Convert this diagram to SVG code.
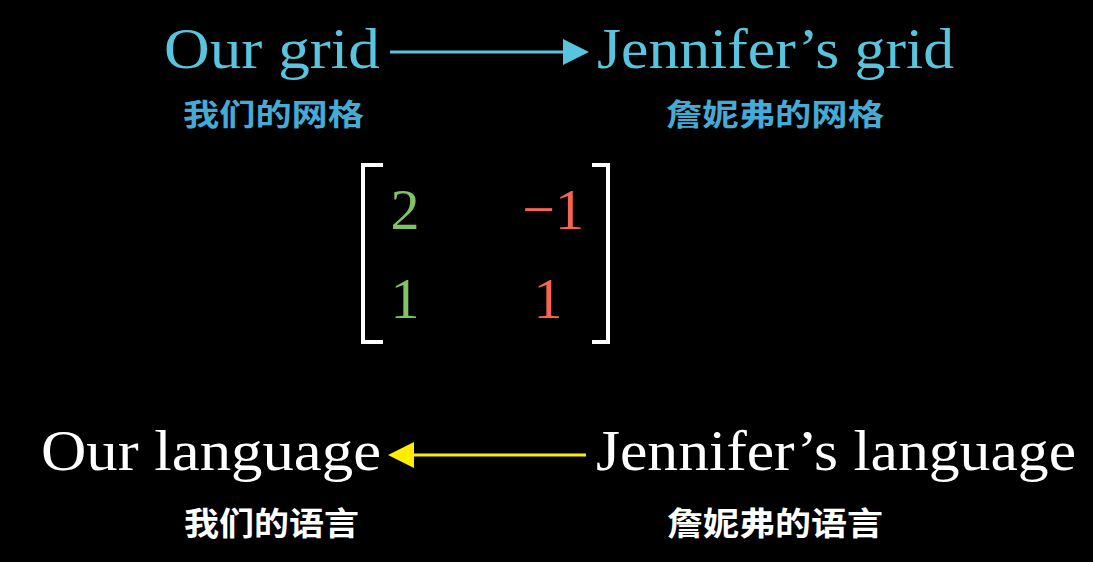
<svg xmlns="http://www.w3.org/2000/svg" width="1093" height="562" viewBox="0 0 1093 562">
<defs>
<style>
.lat{font-family:"Liberation Serif","DejaVu Serif",serif;font-size:58px;}
.cjk{font-family:"Noto Sans CJK SC","Noto Sans",sans-serif;font-weight:700;}
.blue{fill:#58c4dd;}
.cblue{fill:#45aad4;}
.white{fill:#ffffff;}
.green{fill:#83c167;}
.red{fill:#f7644f;}
.brk{fill:none;stroke:#ffffff;stroke-width:4;stroke-linejoin:miter;}
</style>
</defs>
<rect x="0" y="0" width="1093" height="562" fill="#000000"/>
<g id="our-grid">
<text class="lat blue" x="164" y="68" textLength="216" lengthAdjust="spacingAndGlyphs">Our grid</text>
<text class="cjk cblue" x="183" y="125" font-size="30" textLength="181" lengthAdjust="spacingAndGlyphs">我们的网格</text>
</g>
<g id="jennifers-grid">
<text class="lat blue" x="597" y="68" textLength="357" lengthAdjust="spacingAndGlyphs">Jennifer’s grid</text>
<text class="cjk cblue" x="666" y="125" font-size="30" textLength="218" lengthAdjust="spacingAndGlyphs">詹妮弗的网格</text>
</g>
<g id="matrix">
<path class="brk" d="M383,165 H363 V342 H383"/>
<path class="brk" d="M592,165 H608 V342 H592"/>
<text class="lat green" x="405" y="229" text-anchor="middle">2</text>
<text class="lat red" x="584" y="229" text-anchor="end">−1</text>
<text class="lat green" x="405" y="318" text-anchor="middle">1</text>
<text class="lat red" x="548" y="318" text-anchor="middle">1</text>
</g>
<g id="our-language">
<text class="lat white" x="41" y="470" textLength="340" lengthAdjust="spacingAndGlyphs">Our language</text>
<text class="cjk white" x="184" y="535" font-size="32" textLength="175" lengthAdjust="spacingAndGlyphs">我们的语言</text>
</g>
<g id="jennifers-language">
<text class="lat white" x="596" y="470" textLength="480" lengthAdjust="spacingAndGlyphs">Jennifer’s language</text>
<text class="cjk white" x="667" y="535" font-size="32" textLength="216" lengthAdjust="spacingAndGlyphs">詹妮弗的语言</text>
</g>
<g id="connectors">
<line x1="390" y1="52" x2="565" y2="52" stroke="#58c4dd" stroke-width="3"/>
<polygon points="563,39 589,52 563,65" fill="#58c4dd"/>
<line x1="586" y1="455" x2="412" y2="455" stroke="#ffee00" stroke-width="3"/>
<polygon points="414,442 388,455 414,468" fill="#ffee00"/>
</g>
</svg>
